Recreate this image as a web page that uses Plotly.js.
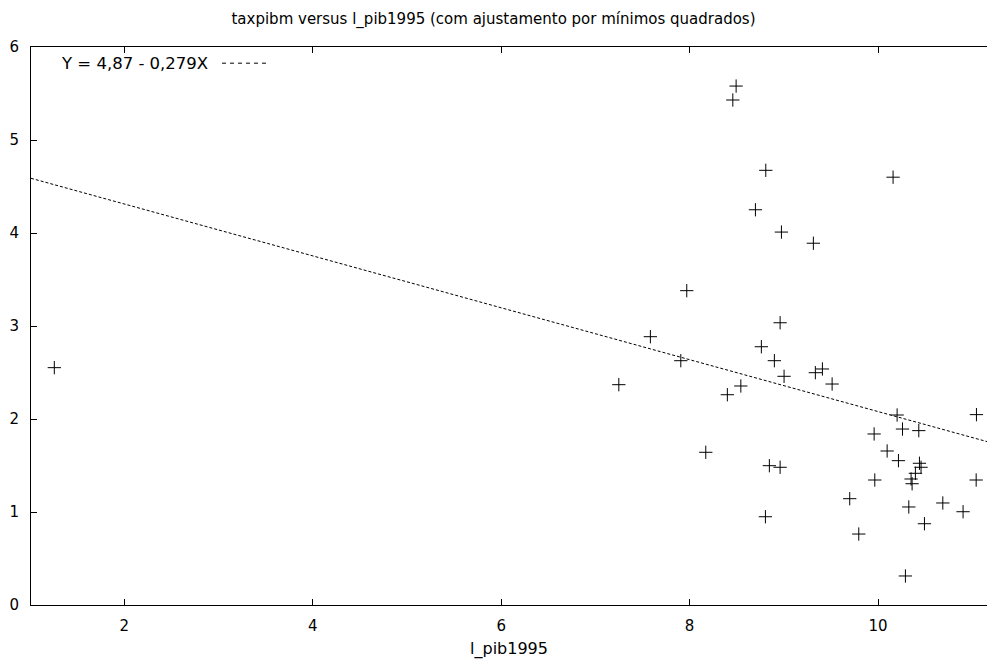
<!DOCTYPE html>
<html>
<head>
<meta charset="utf-8">
<script src="https://cdn.plot.ly/plotly-3.0.1.min.js"></script>
<style>html,body{margin:0;padding:0;overflow:hidden;background:#fff}</style>
</head>
<body>
<div id="chart" style="width:987px;height:659px"></div>
<script>
const lPib1995 = [8.494, 8.459, 8.809, 8.699, 8.975, 9.314, 7.970, 8.961, 7.584, 8.762,
  7.907, 8.900, 9.003, 9.335, 9.410, 7.249, 8.544, 8.401, 9.513, 8.172,
  8.847, 8.961, 8.805, 10.203, 11.045, 9.959, 10.260, 10.433, 10.097, 10.217,
  10.440, 10.457, 10.397, 10.351, 10.362, 9.966, 11.042, 9.700, 10.688, 10.327,
  10.903, 10.493, 9.796, 10.291, 10.160, 1.257];
const taxpibm = [5.58, 5.43, 4.674, 4.25, 4.01, 3.89, 3.38, 3.035, 2.885, 2.777,
  2.627, 2.627, 2.459, 2.498, 2.538, 2.369, 2.355, 2.261, 2.376, 1.642,
  1.498, 1.481, 0.949, 2.043, 2.047, 1.839, 1.892, 1.875, 1.656, 1.552,
  1.524, 1.481, 1.416, 1.355, 1.304, 1.344, 1.344, 1.143, 1.097, 1.054,
  1.003, 0.874, 0.763, 0.312, 4.60, 2.552];
const fitIntercept = 4.87;
const fitSlope = -0.279;
const xRange = [1.0096, 11.157];
const yTicks = [0, 1, 2, 3, 4, 5, 6];
const xTicks = [2, 4, 6, 8, 10];
const fitLabel = 'Y = 4,87 - 0,279X';
const chartTitle = 'taxpibm versus l_pib1995 (com ajustamento por mínimos quadrados)';
const xTitle = 'l_pib1995';

const fitX = xRange.slice();
const fitY = fitX.map(x => fitIntercept + fitSlope * x);

const FAM = 'DejaVu Sans, Verdana, sans-serif';
const FS = 15;
const f = {family: FAM, size: FS, color: '#000'};

const traces = [
  {x: fitX, y: fitY, mode: 'lines', type: 'scatter',
   line: {color: '#000', width: 1, dash: '3px,2px'}, hoverinfo: 'skip', showlegend: false},
  {x: lPib1995, y: taxpibm, mode: 'markers', type: 'scatter',
   marker: {symbol: 'cross-thin-open', size: 9.5, color: '#000', line: {color: '#000', width: 1}},
   showlegend: false}
];

const layout = {
  width: 987, height: 659,
  margin: {l: 31, r: 0, t: 47, b: 54},
  paper_bgcolor: '#fff', plot_bgcolor: '#fff',
  font: f,
  showlegend: false,
  title: {text: chartTitle, font: f, x: 0.5, xanchor: 'center', y: 0.972, yanchor: 'middle'},
  xaxis: {
    range: xRange, tickvals: xTicks, ticktext: xTicks.map(String),
    ticks: 'inside', ticklen: 6, tickwidth: 1, tickcolor: '#000',
    showline: true, linecolor: '#000', linewidth: 1, mirror: 'ticks',
    showgrid: false, zeroline: false,
    ticklabelstandoff: 7,
    tickfont: f,
    title: {text: xTitle, font: {family: FAM, size: 16, color: '#000'}, standoff: 10}
  },
  yaxis: {
    range: [0, 6], tickvals: yTicks, ticktext: yTicks.map(String),
    ticks: 'inside', ticklen: 6, tickwidth: 1, tickcolor: '#000',
    showline: true, linecolor: '#000', linewidth: 1, mirror: false,
    showgrid: false, zeroline: false,
    ticklabelstandoff: 8,
    tickfont: f
  },
  annotations: [
    {xref: 'paper', yref: 'paper', x: 0.0293, y: 0.971, xanchor: 'left', yanchor: 'middle',
     text: fitLabel, showarrow: false, font: {family: FAM, size: 16.5, color: '#000'}}
  ],
  shapes: [
    {type: 'line', xref: 'paper', yref: 'paper', x0: 0.1998, x1: 0.249, y0: 0.971, y1: 0.971,
     line: {color: '#000', width: 1, dash: '4px,4px'}}
  ]
};

Plotly.newPlot('chart', traces, layout, {displayModeBar: false, staticPlot: true});
</script>
</body>
</html>
